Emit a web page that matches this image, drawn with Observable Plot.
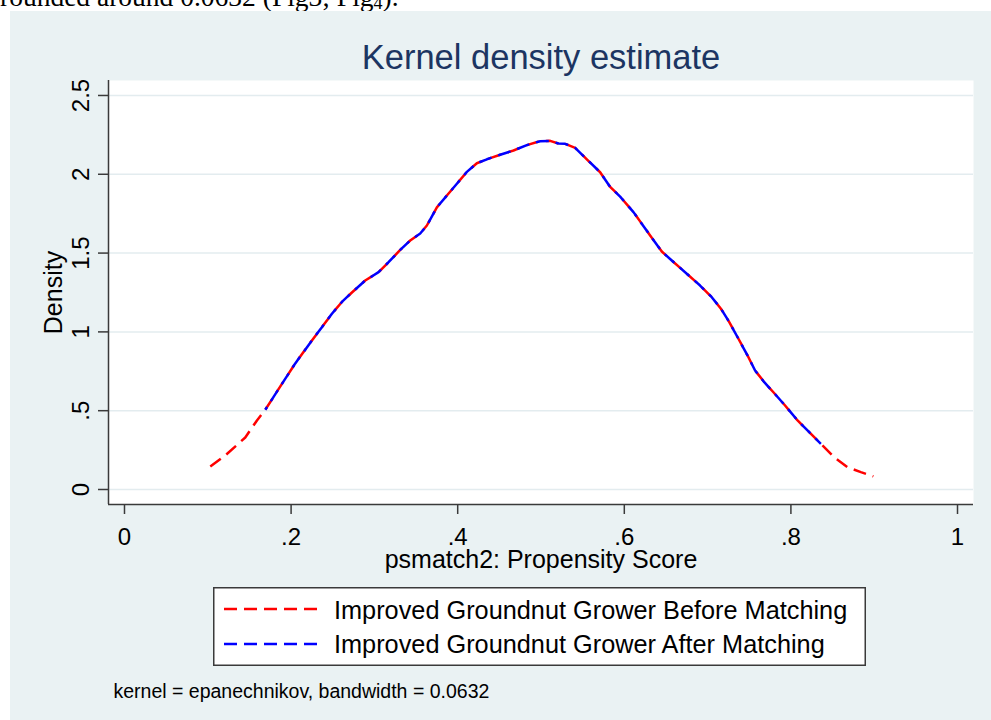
<!DOCTYPE html>
<html>
<head>
<meta charset="utf-8">
<script src="https://cdn.jsdelivr.net/npm/d3@7"></script>
<script src="https://cdn.jsdelivr.net/npm/@observablehq/plot@0.6"></script>
<style>
html, body { margin: 0; padding: 0; background: #ffffff; }
body { width: 991px; height: 720px; overflow: hidden; position: relative; font-family: "Liberation Sans", Arial, sans-serif; }
#doc { position: absolute; left: 0; top: -17px; font-family: "Liberation Serif", "Times New Roman", serif; font-size: 27.5px; line-height: 27.5px; white-space: nowrap; color: #000; }
#panel { position: absolute; left: 10px; top: 11px; width: 981px; height: 709px; background: #eaf2f3; }
#panel > svg { position: absolute; left: 0; top: 0; }
#legend { position: absolute; left: 203px; top: 576px; }
</style>
</head>
<body>
<div id="doc">rounded around 0.0632 (Fig3; Fig<span style="font-size:18px;vertical-align:-3px">4</span>).</div>
<div id="panel"><div id="legend"></div></div>
<script>
// ---- data ----
const titleText = "Kernel density estimate";
const xTitle = "psmatch2: Propensity Score";
const yTitle = "Density";
const captionText = "kernel = epanechnikov, bandwidth = 0.0632";
const seriesNames = ["Improved Groundnut Grower Before Matching", "Improved Groundnut Grower After Matching"];
const seriesColors = ["#ff0000", "#0000ff"];

const xTicks = [0, 0.2, 0.4, 0.6, 0.8, 1];
const xTickLabels = ["0", ".2", ".4", ".6", ".8", "1"];
const yTicks = [0, 0.5, 1, 1.5, 2, 2.5];
const yTickLabels = ["0", ".5", "1", "1.5", "2", "2.5"];

const beforeX = [0.103, 0.121, 0.145, 0.159, 0.169, 0.189, 0.205, 0.225, 0.237, 0.249, 0.261, 0.273, 0.289, 0.305, 0.317, 0.331, 0.343, 0.355, 0.363, 0.375, 0.387, 0.399, 0.411, 0.423, 0.435, 0.451, 0.467, 0.483, 0.499, 0.511, 0.521, 0.529, 0.541, 0.555, 0.571, 0.583, 0.595, 0.611, 0.631, 0.645, 0.657, 0.675, 0.691, 0.705, 0.716, 0.726, 0.736, 0.748, 0.757, 0.768, 0.779, 0.793, 0.808, 0.822, 0.836, 0.852, 0.868, 0.884, 0.899];
const beforeY = [0.146, 0.216, 0.330, 0.438, 0.506, 0.670, 0.800, 0.946, 1.030, 1.115, 1.190, 1.250, 1.326, 1.379, 1.442, 1.520, 1.580, 1.624, 1.675, 1.790, 1.865, 1.940, 2.015, 2.070, 2.095, 2.124, 2.151, 2.185, 2.210, 2.212, 2.195, 2.193, 2.168, 2.095, 2.013, 1.920, 1.858, 1.760, 1.612, 1.510, 1.453, 1.369, 1.294, 1.220, 1.147, 1.062, 0.966, 0.850, 0.755, 0.681, 0.617, 0.533, 0.438, 0.364, 0.290, 0.205, 0.141, 0.110, 0.083];

const afterX = [0.169, 0.189, 0.205, 0.225, 0.237, 0.249, 0.261, 0.273, 0.289, 0.305, 0.317, 0.331, 0.343, 0.355, 0.363, 0.375, 0.387, 0.399, 0.411, 0.423, 0.435, 0.451, 0.467, 0.483, 0.499, 0.511, 0.521, 0.529, 0.541, 0.555, 0.571, 0.583, 0.595, 0.611, 0.631, 0.645, 0.657, 0.675, 0.691, 0.705, 0.716, 0.726, 0.736, 0.748, 0.757, 0.768, 0.779, 0.793, 0.808, 0.822, 0.836];
const afterY = [0.506, 0.670, 0.800, 0.946, 1.030, 1.115, 1.190, 1.250, 1.326, 1.379, 1.442, 1.520, 1.580, 1.624, 1.675, 1.790, 1.865, 1.940, 2.015, 2.070, 2.095, 2.124, 2.151, 2.185, 2.210, 2.212, 2.195, 2.193, 2.168, 2.095, 2.013, 1.920, 1.858, 1.760, 1.612, 1.510, 1.453, 1.369, 1.294, 1.220, 1.147, 1.062, 0.966, 0.850, 0.755, 0.681, 0.617, 0.533, 0.438, 0.364, 0.290];

// ---- layout ----
const W = 981, H = 709, ML = 98, MR = 18, MT = 69, MB = 216;
const xDomain = [-0.0192, 1.0192];
const yDomain = [-0.0952, 2.595];
const DASH = 13, GAP = 7, PERIOD = DASH + GAP;
const axisColor = "#3a3a3a";

const before = beforeX.map((x, i) => ({x, y: beforeY[i]}));
const after = afterX.map((x, i) => ({x, y: afterY[i]}));

// dash phase so the overlaid blue dashes fill the red gaps
const xs = Plot.scale({x: {domain: xDomain, range: [ML, W - MR]}});
const ys = Plot.scale({y: {domain: yDomain, range: [H - MB, MT]}});
let L = 0;
for (let i = 1; i < before.length; i++) {
  if (before[i - 1].x >= afterX[0]) break;
  const dx = xs.apply(before[i].x) - xs.apply(before[i - 1].x);
  const dy = ys.apply(before[i].y) - ys.apply(before[i - 1].y);
  L += Math.hypot(dx, dy);
}
const blueOffset = (((L - 10) % PERIOD) + PERIOD) % PERIOD;

const chart = Plot.plot({
  width: W, height: H,
  marginLeft: ML, marginRight: MR, marginTop: MT, marginBottom: MB,
  x: {domain: xDomain},
  y: {domain: yDomain},
  style: {background: "transparent", fontFamily: "Liberation Sans, Arial, sans-serif", color: "#000", overflow: "visible"},
  marks: [
    Plot.frame({fill: "#ffffff", stroke: null}),
    Plot.gridY(yTicks, {stroke: "#e3ecef", strokeOpacity: 1, strokeWidth: 1.5}),
    Plot.ruleX([xDomain[0]], {stroke: axisColor, strokeWidth: 1.5}),
    Plot.ruleY([yDomain[0]], {stroke: axisColor, strokeWidth: 1.5}),
    Plot.axisX(xTicks, {tickSize: 10, tickPadding: 13, fontSize: 24, stroke: axisColor, strokeWidth: 1.5, label: null,
      tickFormat: d => xTickLabels[xTicks.indexOf(d)]}),
    Plot.axisY(yTicks, {tickSize: 10, tickPadding: 10, tickRotate: -90, fontSize: 24, stroke: axisColor, strokeWidth: 1.5, label: null,
      tickFormat: d => yTickLabels[yTicks.indexOf(d)]}),
    Plot.line(before, {x: "x", y: "y", stroke: seriesColors[0], strokeWidth: 2.5, strokeDasharray: `${DASH},${GAP}`, strokeLinecap: "butt"}),
    Plot.line(after, {x: "x", y: "y", stroke: seriesColors[1], strokeWidth: 2.5, strokeDasharray: `${DASH},${GAP}`, strokeDashoffset: blueOffset, strokeLinecap: "butt"}),
    Plot.text([titleText], {text: d => d, frameAnchor: "top", dy: -12, lineAnchor: "bottom", fontSize: 34.5, fill: "#1c3562"}),
    Plot.text([xTitle], {text: d => d, frameAnchor: "bottom", dy: 63, lineAnchor: "bottom", fontSize: 25}),
    Plot.text([yTitle], {text: d => d, frameAnchor: "left", dx: -47, rotate: -90, textAnchor: "middle", lineAnchor: "bottom", fontSize: 25}),
    Plot.text([captionText], {text: d => d, frameAnchor: "bottom-left", dx: 5, dy: 193, textAnchor: "start", lineAnchor: "bottom", fontSize: 19.5})
  ]
});
document.getElementById("panel").insertBefore(chart, document.getElementById("legend"));

// ---- legend ----
const LW = 653, LH = 79;
const leg = d3.select("#legend").append("svg").attr("width", LW).attr("height", LH)
  .style("font-family", "Liberation Sans, Arial, sans-serif");
leg.append("rect").attr("x", 0.75).attr("y", 0.75).attr("width", LW - 1.5).attr("height", LH - 1.5)
  .attr("fill", "#ffffff").attr("stroke", axisColor).attr("stroke-width", 1.5);
const rows = [{lineY: 22, textY: 32}, {lineY: 57, textY: 66}];
seriesNames.forEach((name, i) => {
  leg.append("line").attr("x1", 11).attr("x2", 104).attr("y1", rows[i].lineY).attr("y2", rows[i].lineY)
    .attr("stroke", seriesColors[i]).attr("stroke-width", 2.5).attr("stroke-dasharray", `${DASH},${GAP}`);
  leg.append("text").attr("x", 121).attr("y", rows[i].textY).attr("font-size", 25.3).attr("fill", "#000").text(name);
});
</script>
</body>
</html>
